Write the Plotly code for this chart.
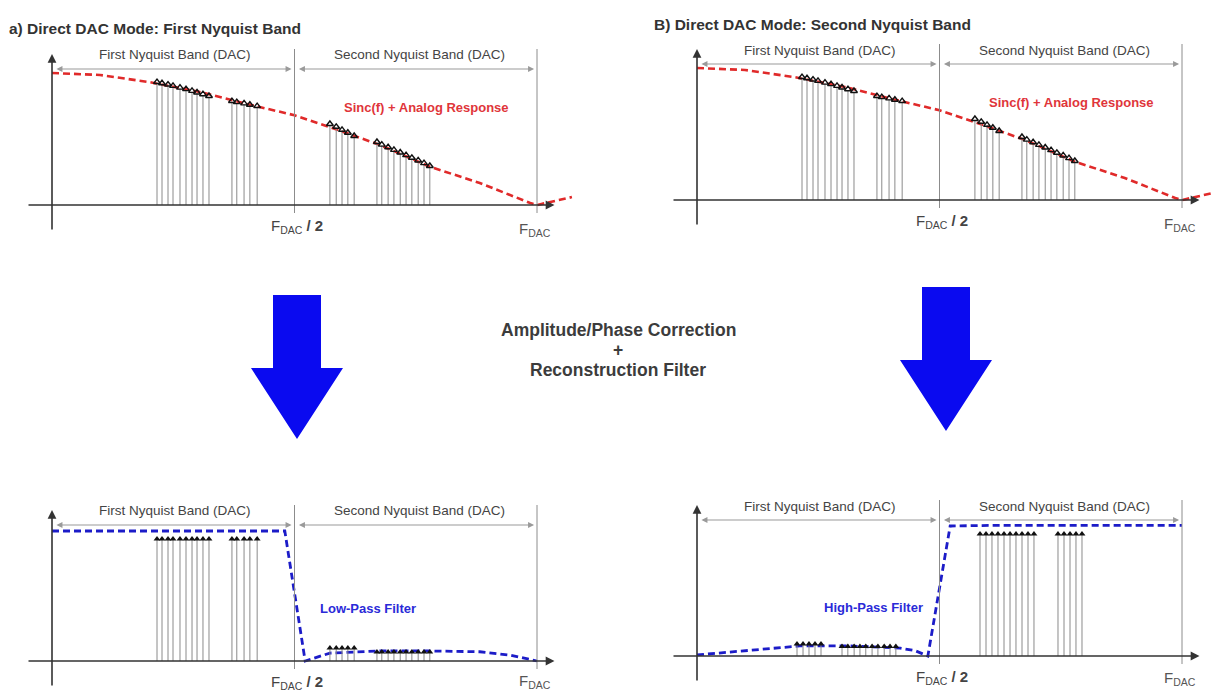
import plotly.graph_objects as go

# ---------------- data (frequency normalised to F_DAC, amplitude normalised) ----------------
sinc_f   = [0.0, 0.099, 0.202, 0.305, 0.408, 0.5, 0.573, 0.676, 0.779, 0.882, 0.986, 1.0, 1.072]
sinc_amp = [1.0, 0.985, 0.93, 0.856, 0.76, 0.68, 0.59, 0.455, 0.29, 0.167, 0.015, 0.0, 0.06]

lpf_f   = [0.0, 0.48, 0.522, 0.573, 0.676, 0.779, 0.882, 0.944, 1.0]
lpf_amp = [0.985, 0.985, 0.0, 0.06, 0.076, 0.076, 0.07, 0.045, 0.0]

hpf_f   = [0.0, 0.109, 0.212, 0.315, 0.419, 0.45, 0.476, 0.522, 0.625, 1.0]
hpf_amp = [0.008, 0.045, 0.076, 0.076, 0.06, 0.04, 0.0, 0.985, 0.99, 0.99]

# tones in first Nyquist band and their images in the second band
tone_a_f   = [0.2165, 0.2268, 0.2392, 0.2495, 0.2639, 0.2763, 0.2887, 0.2990, 0.3113, 0.3237]
tone_a_amp = [0.924, 0.915, 0.905, 0.895, 0.882, 0.870, 0.857, 0.845, 0.832, 0.818]
tone_b_f   = [0.371, 0.381, 0.396, 0.408, 0.423]
tone_b_amp = [0.780, 0.772, 0.762, 0.752, 0.742]
image_b_f   = [0.573, 0.586, 0.598, 0.610, 0.623]
image_b_amp = [0.606, 0.585, 0.562, 0.540, 0.515]
image_a_f   = [0.670, 0.680, 0.693, 0.705, 0.718, 0.730, 0.742, 0.755, 0.767, 0.779]
image_a_amp = [0.470, 0.450, 0.430, 0.410, 0.390, 0.370, 0.350, 0.330, 0.310, 0.288]

# corrected / filtered levels
lp_pass_amp = 0.917
lp_stop_b_amp = 0.09
lp_stop_a_amp = 0.06

hp_main_a_f = [0.5835, 0.5959, 0.6082, 0.6206, 0.6330, 0.6454, 0.6577, 0.6701, 0.6825, 0.6948]
hp_main_b_f = [0.7443, 0.7567, 0.7691, 0.7814, 0.7938]
hp_small_b_f = [0.2062, 0.2186, 0.2309, 0.2433, 0.2557]
hp_small_a_f = [0.299, 0.311, 0.324, 0.336, 0.348, 0.361, 0.373, 0.386, 0.398, 0.410]
hp_pass_amp = 0.917
hp_small_b_amp = 0.083
hp_small_a_amp = 0.065

# ---------------- layout geometry ----------------
OFF = 8                           # page body margin of the html page
W, H = 1219 - OFF, 692 - OFF
PXF, PXA = 485.0, 132.0          # pixels per unit frequency / amplitude
L_EXT, R_EXT, B_EXT, T_EXT = 35, 521, 30, 160
FONT = "Liberation Sans, Arial, sans-serif"

panels = [
    dict(ox=52,  oy=205, n="", fdac_dy=24),
    dict(ox=697, oy=200, n="2", fdac_dy=24),
    dict(ox=52,  oy=661, n="3", fdac_dy=20),
    dict(ox=697, oy=656, n="4", fdac_dy=22),
]

fig = go.Figure()
annotations, shapes = [], []


def px(v):
    return v / PXF


def pa(v):
    return v / PXA


def paper_x(sx):
    return (sx - OFF) / W


def paper_y(sy):
    return 1 - (sy - OFF) / H


def stems(fs, amps):
    xs, ys = [], []
    for f, a in zip(fs, amps):
        xs += [f, f, None]
        ys += [0, a, None]
    return xs, ys


def add_stems(n, fs, amps, open_tip):
    xr, yr = "x" + n, "y" + n
    xs, ys = stems(fs, amps)
    fig.add_trace(go.Scatter(x=xs, y=ys, mode="lines", xaxis=xr, yaxis=yr,
                             line=dict(color="#8a8a8a", width=1), hoverinfo="skip",
                             showlegend=False))
    fig.add_trace(go.Scatter(x=fs, y=[a + pa(1) for a in amps], mode="markers", xaxis=xr, yaxis=yr,
                             marker=dict(symbol="triangle-up-open" if open_tip else "triangle-up",
                                         size=6, color="#111",
                                         line=dict(width=1.4 if open_tip else 0, color="#111")),
                             hoverinfo="skip", showlegend=False))


for p in panels:
    n = p["n"]
    ox, oy = p["ox"] - OFF, p["oy"] - OFF
    fig.layout["xaxis" + n] = dict(domain=[(ox - L_EXT) / W, (ox + R_EXT) / W],
                                   range=[-px(L_EXT), px(R_EXT)], visible=False,
                                   anchor="y" + n, fixedrange=True)
    fig.layout["yaxis" + n] = dict(domain=[1 - (oy + B_EXT) / H, 1 - (oy - T_EXT) / H],
                                   range=[-pa(B_EXT), pa(T_EXT)], visible=False,
                                   anchor="x" + n, fixedrange=True)
    xr, yr = "x" + n, "y" + n
    # frequency dividers
    for fx in (0.5, 1.0):
        shapes.append(dict(type="line", xref=xr, yref=yr, x0=fx, x1=fx, y0=-pa(8), y1=pa(156),
                           line=dict(color="#8c8c8c", width=1)))
    # axes with arrows
    annotations.append(dict(xref=xr, yref=yr, axref=xr, ayref=yr, x=0, y=pa(151), ax=0, ay=-pa(26),
                            text="", showarrow=True, arrowhead=2, arrowsize=1.1, arrowwidth=1.6,
                            arrowcolor="#333"))
    annotations.append(dict(xref=xr, yref=yr, axref=xr, ayref=yr, x=1.036, y=0, ax=-px(25), ay=0,
                            text="", showarrow=True, arrowhead=2, arrowsize=1.1, arrowwidth=1.6,
                            arrowcolor="#333"))
    # band double arrows
    for a0, a1 in ((0.006, 0.494), (0.506, 0.994)):
        annotations.append(dict(xref=xr, yref=yr, axref=xr, ayref=yr, x=a1, y=pa(136), ax=a0, ay=pa(136),
                                text="", showarrow=True, arrowhead=2, arrowside="end+start",
                                arrowsize=1.1, arrowwidth=1.1, arrowcolor="#9a9a9a"))
    annotations.append(dict(xref=xr, yref=yr, x=0.254, y=pa(150), text="First Nyquist Band (DAC)",
                            showarrow=False, font=dict(family=FONT, size=13.5, color="#444")))
    annotations.append(dict(xref=xr, yref=yr, x=0.757, y=pa(150), text="Second Nyquist Band (DAC)",
                            showarrow=False, font=dict(family=FONT, size=13.5, color="#444")))
    # frequency labels
    annotations.append(dict(xref=xr, yref=yr, x=0.505, y=-pa(21),
                            text="F<sub>DAC</sub><b> / 2</b>", showarrow=False,
                            font=dict(family=FONT, size=15, color="#444")))
    annotations.append(dict(xref=xr, yref=yr, x=0.995, y=-pa(p["fdac_dy"]),
                            text="F<sub>DAC</sub>", showarrow=False,
                            font=dict(family=FONT, size=15, color="#555")))

# ----- top panels: sinc response -----
for n in ("", "2"):
    fig.add_trace(go.Scatter(x=sinc_f, y=sinc_amp, mode="lines", xaxis="x" + n, yaxis="y" + n,
                             line=dict(color="#e02a2a", width=2.6, dash="7px,4px"),
                             hoverinfo="skip", showlegend=False))
    add_stems(n, tone_a_f, tone_a_amp, True)
    add_stems(n, tone_b_f, tone_b_amp, True)
    add_stems(n, image_b_f, image_b_amp, True)
    add_stems(n, image_a_f, image_a_amp, True)
    annotations.append(dict(xref="x" + n, yref="y" + n, x=0.773, y=0.735,
                            text="<b>Sinc(f) + Analog Response</b>", showarrow=False,
                            font=dict(family=FONT, size=13, color="#e0353a")))

# ----- bottom left: low-pass -----
fig.add_trace(go.Scatter(x=lpf_f, y=lpf_amp, mode="lines", xaxis="x3", yaxis="y3",
                         line=dict(color="#1c1cc8", width=2.8, dash="7px,4px"),
                         hoverinfo="skip", showlegend=False))
add_stems("3", tone_a_f, [lp_pass_amp] * len(tone_a_f), False)
add_stems("3", tone_b_f, [lp_pass_amp] * len(tone_b_f), False)
add_stems("3", image_b_f, [lp_stop_b_amp] * len(image_b_f), False)
add_stems("3", image_a_f, [lp_stop_a_amp] * len(image_a_f), False)
annotations.append(dict(xref="x3", yref="y3", x=0.652, y=0.40, text="<b>Low-Pass Filter</b>",
                        showarrow=False, font=dict(family=FONT, size=13, color="#2a2ad8")))

# ----- bottom right: high-pass -----
fig.add_trace(go.Scatter(x=hpf_f, y=hpf_amp, mode="lines", xaxis="x4", yaxis="y4",
                         line=dict(color="#1c1cc8", width=2.8, dash="7px,4px"),
                         hoverinfo="skip", showlegend=False))
add_stems("4", hp_main_a_f, [hp_pass_amp] * len(hp_main_a_f), False)
add_stems("4", hp_main_b_f, [hp_pass_amp] * len(hp_main_b_f), False)
add_stems("4", hp_small_b_f, [hp_small_b_amp] * len(hp_small_b_f), False)
add_stems("4", hp_small_a_f, [hp_small_a_amp] * len(hp_small_a_f), False)
annotations.append(dict(xref="x4", yref="y4", x=0.363, y=0.364, text="<b>High-Pass Filter</b>",
                        showarrow=False, font=dict(family=FONT, size=13, color="#2a2ad8")))

# ----- titles & centre text -----
annotations.append(dict(xref="paper", yref="paper", x=paper_x(7), y=paper_y(18), xanchor="left",
                        text="<b>a) Direct DAC Mode: First Nyquist Band</b>", showarrow=False,
                        font=dict(family=FONT, size=15.5, color="#333")))
annotations.append(dict(xref="paper", yref="paper", x=paper_x(652), y=paper_y(14), xanchor="left",
                        text="<b>B) Direct DAC Mode: Second Nyquist Band</b>", showarrow=False,
                        font=dict(family=FONT, size=15.5, color="#333")))
for txt, yy in (("Amplitude/Phase Correction", 330), ("+", 350), ("Reconstruction Filter", 370)):
    annotations.append(dict(xref="paper", yref="paper", x=paper_x(618), y=paper_y(yy),
                            text="<b>" + txt + "</b>", showarrow=False,
                            font=dict(family=FONT, size=17.5, color="#3c3c3c")))


def arrow_path(cx, top, shaft_w, head_top, head_w, tip):
    pts = [(cx - shaft_w / 2, top), (cx + shaft_w / 2, top), (cx + shaft_w / 2, head_top),
           (cx + head_w / 2, head_top), (cx, tip), (cx - head_w / 2, head_top),
           (cx - shaft_w / 2, head_top)]
    return "M " + " L ".join(f"{paper_x(x):.5f},{paper_y(y):.5f}" for x, y in pts) + " Z"


for args in ((297, 295, 48, 368, 92, 439), (946, 287, 48, 360, 92, 431)):
    shapes.append(dict(type="path", xref="paper", yref="paper", path=arrow_path(*args),
                       fillcolor="#0a0af0", line=dict(width=0)))

fig.update_layout(width=W, height=H, margin=dict(l=0, r=0, t=0, b=0),
                  paper_bgcolor="white", plot_bgcolor="rgba(0,0,0,0)",
                  annotations=annotations, shapes=shapes, showlegend=False)

fig.write_html("out.html")
